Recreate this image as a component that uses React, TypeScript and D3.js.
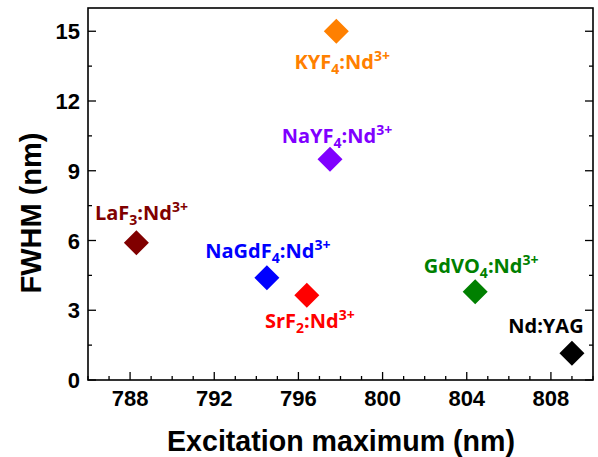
import React from 'react';
import * as d3 from 'd3';

// excitation maximum (nm) and FWHM (nm)
const hosts = ['KYF', 'NaYF', 'LaF', 'NaGdF', 'SrF', 'GdVO', 'Nd:YAG'];
const subs = ['4', '4', '3', '4', '2', '4', ''];
const excitation = [797.8, 797.5, 788.3, 794.5, 796.4, 804.4, 809.0];
const fwhm = [15.0, 9.5, 5.9, 4.4, 3.65, 3.8, 1.15];
const colors = ['#ff8000', '#8000ff', '#800000', '#0000ff', '#ff0000', '#008000', '#000000'];
// label offset from the marker, px
const labelDx = [6, 7, 5, 1, 3, 6, -26];
const labelDy = [38, -16, -23, -20, 33, -19, -20];

const xTicks = [788, 792, 796, 800, 804, 808];
const yTicks = [0, 3, 6, 9, 12, 15];

const W = 598;
const H = 457;
const m = { left: 88, right: 5, top: 8, bottom: 77 };

export default function App() {
  const x = d3.scaleLinear().domain([786, 810]).range([m.left, W - m.right]);
  const y = d3.scaleLinear().domain([0, 16]).range([H - m.bottom, m.top]);
  const x0 = m.left, x1 = W - m.right, y0 = H - m.bottom, y1 = m.top;

  const xMinor = d3.range(786, 811, 1);
  const yMinor = d3.range(0, 16.01, 1.5);

  const diamond = (r: number) => `M0,${-r}L${r},0L0,${r}L${-r},0Z`;
  const tickFont = "'Liberation Sans', Arial, sans-serif";
  const labFont = "'Open Sans', 'Noto Sans', sans-serif";

  return (
    <svg width={W} height={H} style={{ position: 'absolute', left: 0, top: 0, background: '#fff' }}>
      {/* minor ticks */}
      {xMinor.map((t) => (
        <line key={'xm' + t} x1={x(t)} x2={x(t)} y1={y0} y2={y0 - (t % 4 === 0 ? 8 : 4)} stroke="#000" strokeWidth={1.3} />
      ))}
      {yMinor.map((t) => (
        <g key={'ym' + t}>
          <line x1={x0} x2={x0 + (t % 3 === 0 ? 8 : 4)} y1={y(t)} y2={y(t)} stroke="#000" strokeWidth={1.3} />
          <line x1={x1} x2={x1 - (t % 3 === 0 ? 8 : 4)} y1={y(t)} y2={y(t)} stroke="#000" strokeWidth={1.3} />
        </g>
      ))}
      <rect x={x0} y={y1} width={x1 - x0} height={y0 - y1} fill="none" stroke="#000" strokeWidth={1.6} />

      {xTicks.map((t) => (
        <text key={'xt' + t} x={x(t)} y={y0 + 26} textAnchor="middle" fontFamily={tickFont} fontWeight="bold" fontSize={22}>
          {t}
        </text>
      ))}
      {yTicks.map((t) => (
        <text key={'yt' + t} x={x0 - 8} y={y(t) + 8} textAnchor="end" fontFamily={tickFont} fontWeight="bold" fontSize={22}>
          {t}
        </text>
      ))}

      <text x={341} y={451} textAnchor="middle" fontFamily={tickFont} fontWeight="bold" fontSize={28.6}>
        Excitation maximum (nm)
      </text>
      <text transform={`translate(41,213) rotate(-90)`} textAnchor="middle" fontFamily={tickFont} fontWeight="bold" fontSize={29}>
        FWHM (nm)
      </text>

      {hosts.map((h, i) => (
        <path key={'p' + i} d={diamond(12.5)} transform={`translate(${x(excitation[i])},${y(fwhm[i])})`} fill={colors[i]} />
      ))}

      {hosts.map((h, i) => (
        <text
          key={'l' + i}
          x={x(excitation[i]) + labelDx[i]}
          y={y(fwhm[i]) + labelDy[i]}
          textAnchor="middle"
          fontFamily={labFont}
          fontWeight={700}
          fontSize={20}
          fill={colors[i]}
        >
          {h === 'Nd:YAG' ? (
            'Nd:YAG'
          ) : (
            <>
              {h}
              <tspan fontSize={14} dy={5}>{subs[i]}</tspan>
              <tspan dy={-5}>:Nd</tspan>
              <tspan fontSize={14} dy={-8}>3+</tspan>
            </>
          )}
        </text>
      ))}
    </svg>
  );
}
